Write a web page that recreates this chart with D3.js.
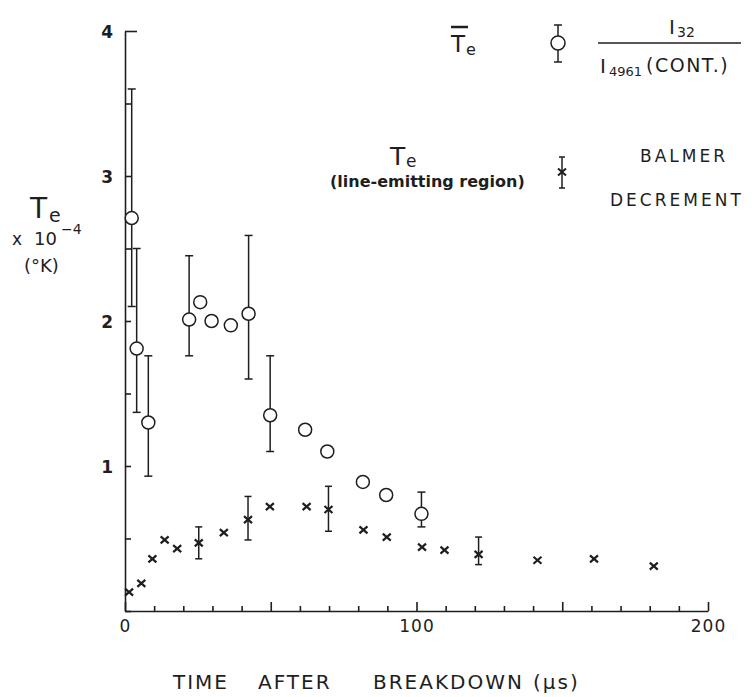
<!DOCTYPE html>
<html>
<head>
<meta charset="utf-8">
<script src="https://cdn.jsdelivr.net/npm/d3@7"></script>
<style>
  body { margin: 0; background: #fff; }
  text { font-family: "DejaVu Sans", sans-serif; fill: #1e1e1e; }
</style>
</head>
<body>
<div id="chart"></div>
<script>
// mean Te from I32 / I4961(cont.) — circles
const circleTime = [2.3, 4.0, 8.0, 22, 25.8, 29.7, 36.3, 42.4, 49.8, 61.8, 69.4, 81.6, 89.6, 101.7];
const circleTe = [2.71, 1.81, 1.30, 2.01, 2.13, 2.0, 1.97, 2.05, 1.35, 1.25, 1.10, 0.89, 0.80, 0.67];
const circleErr = [[2.1, 3.6], [1.37, 2.5], [0.93, 1.76], [1.76, 2.45], null, null, null,
  [1.6, 2.59], [1.10, 1.76], null, null, null, null, [0.58, 0.82]];

// Te (line-emitting region) from Balmer decrement — crosses
const crossTime = [1.4, 5.6, 9.4, 13.6, 17.9, 25.3, 33.9, 42.2, 49.7, 62.3, 69.8, 81.8, 89.8,
  101.9, 109.6, 121.3, 141.5, 160.9, 181.4];
const crossTe = [0.13, 0.19, 0.36, 0.49, 0.43, 0.47, 0.54, 0.63, 0.72, 0.72, 0.70, 0.56, 0.51,
  0.44, 0.42, 0.39, 0.35, 0.36, 0.31];
const crossErr = [null, null, null, null, null, [0.36, 0.58], null, [0.49, 0.79], null, null,
  [0.55, 0.86], null, null, null, null, [0.32, 0.51], null, null, null];

const xTicks = d3.range(0, 201, 10);
const xLabels = [0, 100, 200];
const yTicks = d3.range(0, 4.01, 0.5);
const yLabels = [1, 2, 3, 4];

const ink = "#1e1e1e";
const svg = d3.select("#chart").append("svg")
  .attr("width", 755).attr("height", 697);

const x = d3.scaleLinear().domain([0, 200]).range([125, 708]);
const y = d3.scaleLinear().domain([0, 4]).range([611, 31]);

// axes
const xAxis = svg.append("g")
  .attr("transform", "translate(0,611)")
  .call(d3.axisBottom(x).tickValues(xTicks).tickSizeInner(-5).tickSizeOuter(0)
    .tickPadding(9).tickFormat(d => xLabels.includes(d) ? d : ""));
xAxis.selectAll(".tick line").attr("y2", d => d % 50 === 0 ? -9 : -5);

const yAxis = svg.append("g")
  .attr("transform", "translate(125,0)")
  .call(d3.axisLeft(y).tickValues(yTicks).tickSizeInner(-6).tickSizeOuter(0)
    .tickPadding(11).tickFormat(d => yLabels.includes(d) ? d : ""));
yAxis.selectAll(".tick line").attr("x2", d => d === 4 ? 12 : 6);

svg.selectAll(".domain, .tick line").attr("stroke", ink).attr("stroke-width", 1.6);
svg.selectAll(".tick text").attr("font-family", "DejaVu Sans").attr("font-size", 17)
  .attr("fill", ink).attr("letter-spacing", 1);
yAxis.selectAll(".tick text").attr("dy", "0.4em").attr("font-weight", "bold");

// error bars helper
function errBar(g, cx, lo, hi, w) {
  g.append("line").attr("x1", cx).attr("x2", cx).attr("y1", y(lo)).attr("y2", y(hi));
  g.append("line").attr("x1", cx - w / 2).attr("x2", cx + w / 2).attr("y1", y(lo)).attr("y2", y(lo));
  g.append("line").attr("x1", cx - w / 2).attr("x2", cx + w / 2).attr("y1", y(hi)).attr("y2", y(hi));
}

const bars = svg.append("g").attr("stroke", ink).attr("stroke-width", 1.5);
circleErr.forEach((e, i) => { if (e) errBar(bars, x(circleTime[i]), e[0], e[1], 8); });
crossErr.forEach((e, i) => { if (e) errBar(bars, x(crossTime[i]), e[0], e[1], 7); });

svg.append("g").selectAll("circle")
  .data(circleTime)
  .enter().append("circle")
  .attr("cx", d => x(d))
  .attr("cy", (d, i) => y(circleTe[i]))
  .attr("r", 6.5)
  .attr("fill", "#fff").attr("stroke", ink).attr("stroke-width", 1.5);

const crossPath = "M-4,-3.5L4,3.5M-4,3.5L4,-3.5";
svg.append("g").selectAll("path")
  .data(crossTime)
  .enter().append("path")
  .attr("d", crossPath)
  .attr("transform", (d, i) => `translate(${x(d)},${y(crossTe[i])})`)
  .attr("stroke", ink).attr("stroke-width", 2.2).attr("fill", "none");

// y label
const yl = svg.append("g");
yl.append("text").attr("x", 30).attr("y", 218).attr("font-size", 28).text("T");
yl.append("text").attr("x", 49).attr("y", 222).attr("font-size", 19).text("e");
yl.append("text").attr("x", 12).attr("y", 245).attr("font-size", 17).text("x");
yl.append("text").attr("x", 34).attr("y", 245).attr("font-size", 18).text("10");
yl.append("text").attr("x", 61).attr("y", 234).attr("font-size", 14).text("−4");
yl.append("text").attr("x", 24).attr("y", 272).attr("font-size", 18).text("(°K)");

// x title
const title = svg.append("text").attr("y", 689).attr("font-size", 20).attr("letter-spacing", 2);
title.append("tspan").attr("x", 173).text("TIME");
title.append("tspan").attr("x", 258).text("AFTER");
title.append("tspan").attr("x", 373).text("BREAKDOWN");
title.append("tspan").attr("x", 533).text("(μs)");

// legend: circles
const lg = svg.append("g");
lg.append("text").attr("x", 451).attr("y", 52).attr("font-size", 23).text("T");
lg.append("text").attr("x", 466).attr("y", 55).attr("font-size", 16).text("e");
lg.append("line").attr("x1", 451).attr("x2", 468).attr("y1", 27).attr("y2", 27)
  .attr("stroke", ink).attr("stroke-width", 2.5);
const lgBar = lg.append("g").attr("stroke", ink).attr("stroke-width", 1.5);
lgBar.append("line").attr("x1", 558).attr("x2", 558).attr("y1", 25).attr("y2", 62);
lgBar.append("line").attr("x1", 554).attr("x2", 562).attr("y1", 25).attr("y2", 25);
lgBar.append("line").attr("x1", 554).attr("x2", 562).attr("y1", 62).attr("y2", 62);
lg.append("circle").attr("cx", 558).attr("cy", 43).attr("r", 7)
  .attr("fill", "#fff").attr("stroke", ink).attr("stroke-width", 1.5);

lg.append("text").attr("x", 669).attr("y", 34).attr("font-family", "Liberation Serif")
  .attr("font-size", 20).text("I");
lg.append("text").attr("x", 677).attr("y", 37).attr("font-size", 14).text("32");
lg.append("line").attr("x1", 598).attr("x2", 741).attr("y1", 43).attr("y2", 43)
  .attr("stroke", ink).attr("stroke-width", 1.5);
lg.append("text").attr("x", 600).attr("y", 73).attr("font-family", "Liberation Serif")
  .attr("font-size", 20).text("I");
lg.append("text").attr("x", 609).attr("y", 76).attr("font-size", 13).text("4961");
lg.append("text").attr("x", 646).attr("y", 72).attr("font-size", 19).attr("letter-spacing", 1.5)
  .text("(CONT.)");

// legend: crosses
lg.append("text").attr("x", 390).attr("y", 165).attr("font-size", 25).text("T");
lg.append("text").attr("x", 406).attr("y", 167).attr("font-size", 17).text("e");
lg.append("text").attr("x", 330).attr("y", 187).attr("font-size", 16).attr("font-weight", "bold")
  .text("(line-emitting region)");
const lgX = lg.append("g").attr("stroke", ink).attr("stroke-width", 1.5);
lgX.append("line").attr("x1", 562).attr("x2", 562).attr("y1", 157).attr("y2", 188);
lgX.append("line").attr("x1", 559).attr("x2", 565).attr("y1", 157).attr("y2", 157);
lgX.append("line").attr("x1", 559).attr("x2", 565).attr("y1", 188).attr("y2", 188);
lg.append("path").attr("d", crossPath).attr("transform", "translate(562,172)")
  .attr("stroke", ink).attr("stroke-width", 2).attr("fill", "none");

lg.append("text").attr("x", 640).attr("y", 162).attr("font-size", 17).attr("letter-spacing", 3)
  .text("BALMER");
lg.append("text").attr("x", 610).attr("y", 206).attr("font-size", 17).attr("letter-spacing", 3)
  .text("DECREMENT");
</script>
</body>
</html>
